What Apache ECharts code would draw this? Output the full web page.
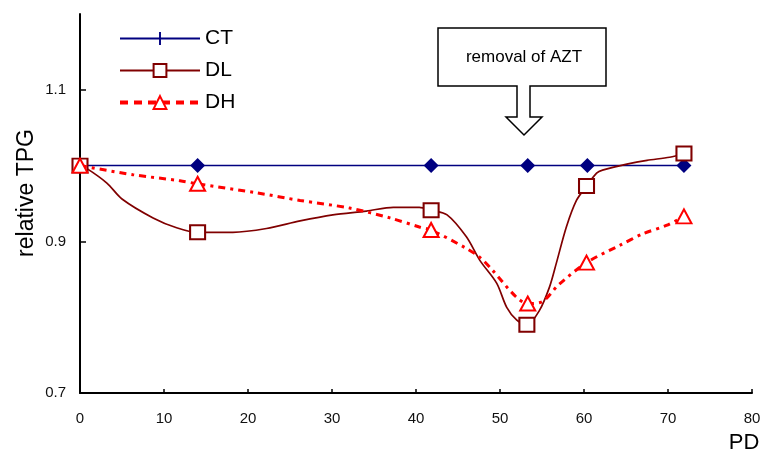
<!DOCTYPE html>
<html>
<head>
<meta charset="utf-8">
<script src="https://cdn.jsdelivr.net/npm/echarts@6/dist/echarts.min.js"></script>
<title>relative TPG</title>
<style>
  * { margin: 0; padding: 0; }
  html, body { background: #fff; }
  #chart { width: 764px; height: 457px; }
</style>
</head>
<body>
<div id="chart"></div>
<script>
// x values where a series shows its marker
var ctX = [0, 14, 41.8, 53.3, 60.4, 71.9];
var ctY = [1.0, 1.0, 1.0, 1.0, 1.0, 1.0];

// DL curve, markers at dlMarks
var dlCurve = [
  [0, 1.0], [0.7, 0.997], [3.2, 0.977], [5.0, 0.956], [8.7, 0.931], [11.5, 0.918],
  [14, 0.912], [18.2, 0.912], [22.2, 0.917], [26.2, 0.927], [30.1, 0.935], [34.1, 0.940],
  [37.3, 0.945], [40.4, 0.945], [41.8, 0.941], [43.7, 0.935], [46.0, 0.906], [47.6, 0.875],
  [49.6, 0.845], [50.8, 0.813], [52.0, 0.796], [53.2, 0.790], [54.7, 0.809], [55.9, 0.840],
  [56.7, 0.871], [57.9, 0.919], [59.1, 0.954], [60.3, 0.973], [61.5, 0.990], [62.2, 0.994],
  [65.1, 1.002], [67.5, 1.007], [70.2, 1.011], [71.9, 1.016]
];
var dlMarks = [0, 14, 41.8, 53.2, 60.3, 71.9];

// DH curve, markers at dhMarks
var dhCurve = [
  [0, 1.0], [6.3, 0.988], [11.9, 0.980], [14, 0.976], [21.1, 0.964], [26.2, 0.954],
  [32.1, 0.944], [36.9, 0.931], [40.4, 0.919], [41.8, 0.915], [45.8, 0.892], [47.6, 0.879],
  [49.1, 0.862], [51.9, 0.827], [53.3, 0.818], [55.1, 0.821], [57.0, 0.843], [60.3, 0.872],
  [64.3, 0.895], [67.0, 0.910], [69.8, 0.921], [71.9, 0.933]
];
var dhMarks = [0, 14, 41.8, 53.3, 60.3, 71.9];

var yTicks = [0.7, 0.9, 1.1];

function withMarks(curve, marks) {
  return curve.map(function (p) {
    if (marks.indexOf(p[0]) >= 0) return { value: p };
    return { value: p, symbol: 'none' };
  });
}

var ctData = ctX.map(function (x, i) {
  return { value: [x, ctY[i]], symbol: 'diamond', symbolSize: 15 };
});

var font = 'Liberation Sans, Arial, sans-serif';

var option = {
  animation: false,
  grid: { left: 80, right: 12, top: 14, bottom: 64 },
  legend: {
    orient: 'vertical',
    left: 118,
    top: 28,
    padding: 0,
    itemWidth: 80,
    itemHeight: 16,
    itemGap: 11,
    textStyle: { fontFamily: font, fontSize: 21, color: '#000' },
    data: [
      { name: 'CT' },
      { name: 'DL' },
      { name: 'DH', lineStyle: { type: [8, 6], width: 4 } }
    ]
  },
  xAxis: {
    type: 'value',
    min: 0,
    max: 80,
    interval: 10,
    axisLine: { lineStyle: { color: '#000', width: 2 } },
    axisTick: { inside: true, length: 4, lineStyle: { color: '#000', width: 1.5 } },
    axisLabel: { fontFamily: font, fontSize: 15, color: '#111', margin: 18 },
    splitLine: { show: false }
  },
  yAxis: {
    type: 'value',
    min: 0.7,
    max: 1.2,
    axisLine: { show: true, lineStyle: { color: '#000', width: 2 } },
    axisTick: { show: true, inside: true, length: 6, customValues: yTicks, lineStyle: { color: '#000', width: 1.5 } },
    axisLabel: { fontFamily: font, fontSize: 15, color: '#111', margin: 14, customValues: yTicks,
      formatter: function (v) { return v.toFixed(1); } },
    splitLine: { show: false }
  },
  series: [
    {
      name: 'CT',
      type: 'line',
      symbol: 'path://M-6,0 M6,12 M-0.9,0 L0.9,0 L0.9,12 L-0.9,12 Z',
      symbolSize: 15,
      itemStyle: { color: '#000080' },
      lineStyle: { color: '#000080', width: 1.5 },
      data: ctData,
      z: 2
    },
    {
      name: 'DL',
      type: 'line',
      smooth: 0.3,
      symbol: 'rect',
      symbolSize: [15, 14],
      itemStyle: { color: '#fff', borderColor: '#800000', borderWidth: 2 },
      lineStyle: { color: '#800000', width: 1.7 },
      data: withMarks(dlCurve, dlMarks),
      z: 3
    },
    {
      name: 'DH',
      type: 'line',
      smooth: 0.3,
      symbol: 'triangle',
      symbolSize: [15, 14],
      itemStyle: { color: '#fff', borderColor: '#ff0000', borderWidth: 2 },
      lineStyle: { color: '#ff0000', width: 3, type: [7, 5, 3, 5] },
      data: withMarks(dhCurve, dhMarks),
      z: 4
    }
  ],
  graphic: [
    {
      type: 'polygon',
      shape: {
        points: [[438, 28], [606, 28], [606, 86], [530, 86], [530, 117], [542, 117],
                 [524, 135], [506, 117], [517, 117], [517, 86], [438, 86]]
      },
      style: { fill: '#fff', stroke: '#000', lineWidth: 1.5 },
      z: 10
    },
    {
      type: 'text',
      x: 524, y: 57,
      style: { text: 'removal of AZT', font: '17px ' + font, fill: '#000', textAlign: 'center', textVerticalAlign: 'middle' },
      z: 11
    },
    {
      type: 'text',
      x: 27, y: 193,
      rotation: Math.PI / 2,
      style: { text: 'relative TPG', font: '23px ' + font, fill: '#000', textAlign: 'center', textVerticalAlign: 'middle' },
      z: 11
    },
    {
      type: 'text',
      x: 744, y: 443,
      style: { text: 'PD', font: '22px ' + font, fill: '#000', textAlign: 'center', textVerticalAlign: 'middle' },
      z: 11
    }
  ]
};

var chart = echarts.init(document.getElementById('chart'));
chart.setOption(option);
</script>
</body>
</html>
